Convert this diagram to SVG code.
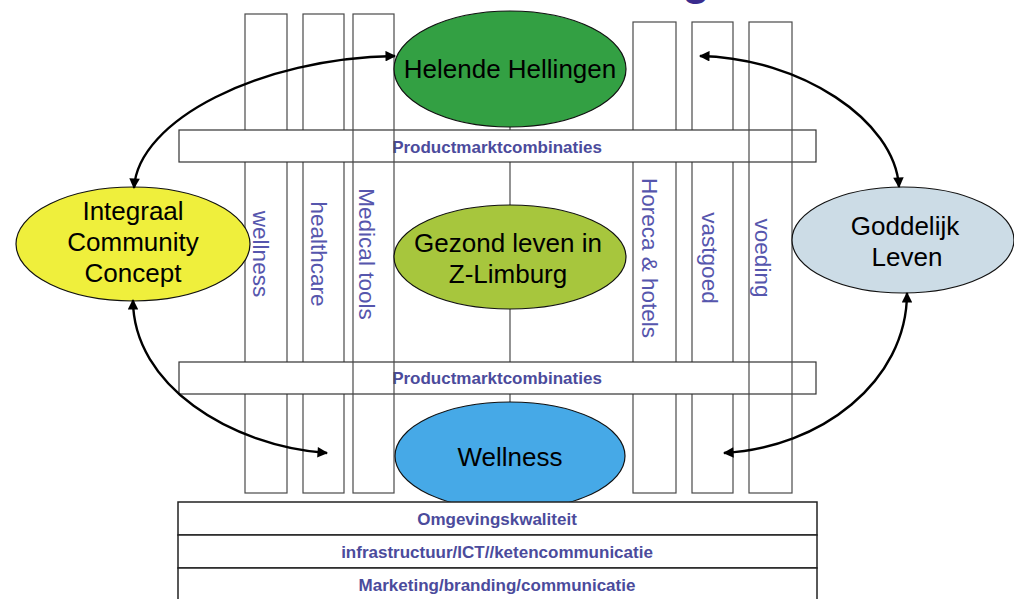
<svg xmlns="http://www.w3.org/2000/svg" width="1014" height="599" viewBox="0 0 1014 599">
  <style>
    .col { fill: #ffffff; stroke: #4a4a4a; stroke-width: 1.2; }
    .colov { fill: none; stroke: #4a4a4a; stroke-width: 1.2; }
    .band { fill: #ffffff; stroke: #333333; stroke-width: 1.2; }
    .base { fill: #ffffff; stroke: #222222; stroke-width: 1.5; }
    .node { stroke: #111111; stroke-width: 1.2; }
    .lbl { font-family: "Liberation Sans", Arial, sans-serif; font-size: 26px; fill: #000000; text-anchor: middle; }
    .vlbl { font-family: "Liberation Sans", Arial, sans-serif; font-size: 22.5px; fill: #5656ad; text-anchor: middle; }
    .blbl { font-family: "Liberation Sans", Arial, sans-serif; font-size: 17px; font-weight: bold; fill: #4b4b9c; text-anchor: middle; }
    .link { fill: none; stroke: #000000; stroke-width: 2.4; marker-start: url(#head); marker-end: url(#head); }
  </style>
  <defs>
    <marker id="head" viewBox="0 0 10 10" refX="9" refY="5" markerWidth="5" markerHeight="4.4" orient="auto-start-reverse" markerUnits="strokeWidth">
      <path d="M0,0 L10,5 L0,10 z" fill="#000000"/>
    </marker>
  </defs>

  <rect width="1014" height="599" fill="#ffffff"/>

  <!-- descender of the heading above -->
  <text x="682" y="-6" font-family="Liberation Sans, Arial, sans-serif" font-size="46" font-weight="bold" fill="#3a2c8e">g</text>

  <!-- spine through the centre -->
  <line x1="510" y1="126" x2="510" y2="403" stroke="#4a4a4a" stroke-width="1.2"/>

  <!-- sector columns behind the bands -->
  <g id="columns">
    <rect class="col" x="245" y="14" width="42" height="479"/>
    <rect class="col" x="303" y="14" width="41" height="479"/>
    <rect class="col" x="633" y="22" width="43" height="471"/>
    <rect class="col" x="692" y="22" width="41" height="471"/>
  </g>

  <!-- product-market bands -->
  <g id="pmc-top">
    <rect class="band" x="179" y="130" width="637" height="32"/>
    <text class="blbl" x="497" y="153">Productmarktcombinaties</text>
  </g>
  <g id="pmc-bottom">
    <rect class="band" x="179" y="362" width="637" height="32"/>
    <text class="blbl" x="497" y="384">Productmarktcombinaties</text>
  </g>

  <!-- outer columns run over the bands -->
  <g id="columns-over">
    <rect class="colov" x="353" y="14" width="41" height="479"/>
    <rect class="colov" x="749" y="22" width="43" height="471"/>
  </g>

  <!-- vertical sector labels -->
  <g id="sector-labels">
    <text class="vlbl" transform="translate(253,254) rotate(90)">wellness</text>
    <text class="vlbl" transform="translate(311,254) rotate(90)">healthcare</text>
    <text class="vlbl" transform="translate(359,254) rotate(90)">Medical tools</text>
    <text class="vlbl" transform="translate(642,258) rotate(90)">Horeca &amp; hotels</text>
    <text class="vlbl" transform="translate(702,258) rotate(90)">vastgoed</text>
    <text class="vlbl" transform="translate(755,258) rotate(90)">voeding</text>
  </g>

  <!-- themes -->
  <g id="helende-hellingen">
    <ellipse class="node" cx="510" cy="69" rx="116" ry="58" fill="#33a043"/>
    <text class="lbl" x="510" y="78">Helende Hellingen</text>
  </g>
  <g id="integraal-community-concept">
    <ellipse class="node" cx="133" cy="244" rx="117" ry="57" fill="#efef3c"/>
    <text class="lbl" x="133" y="220">Integraal</text>
    <text class="lbl" x="133" y="251">Community</text>
    <text class="lbl" x="133" y="282">Concept</text>
  </g>
  <g id="gezond-leven">
    <ellipse class="node" cx="510" cy="257" rx="116" ry="52" fill="#a7c63d"/>
    <text class="lbl" x="508" y="252">Gezond leven in</text>
    <text class="lbl" x="508" y="283">Z-Limburg</text>
  </g>
  <g id="goddelijk-leven">
    <ellipse class="node" cx="903" cy="240" rx="111" ry="53" fill="#ccdce6"/>
    <text class="lbl" x="905" y="235">Goddelijk</text>
    <text class="lbl" x="907" y="266">Leven</text>
  </g>
  <g id="wellness">
    <ellipse class="node" cx="510" cy="456" rx="115" ry="54" fill="#46a9e7"/>
    <text class="lbl" x="510" y="466">Wellness</text>
  </g>

  <!-- connectors -->
  <g id="connectors">
    <path class="link" d="M134,188 C138,120 260,58 395,56"/>
    <path class="link" d="M700,56 C800,58 895,120 899,187"/>
    <path class="link" d="M133,300 C133,385 230,446 327,453"/>
    <path class="link" d="M907,293 C907,382 820,448 724,453"/>
  </g>

  <!-- base layers -->
  <g id="base-layers">
    <rect class="base" x="178" y="502" width="639" height="33"/>
    <text class="blbl" x="497" y="525">Omgevingskwaliteit</text>
    <rect class="base" x="178" y="535" width="639" height="33"/>
    <text class="blbl" x="497" y="558">infrastructuur/ICT//ketencommunicatie</text>
    <rect class="base" x="178" y="568" width="639" height="40"/>
    <text class="blbl" x="497" y="591">Marketing/branding/communicatie</text>
  </g>
</svg>
